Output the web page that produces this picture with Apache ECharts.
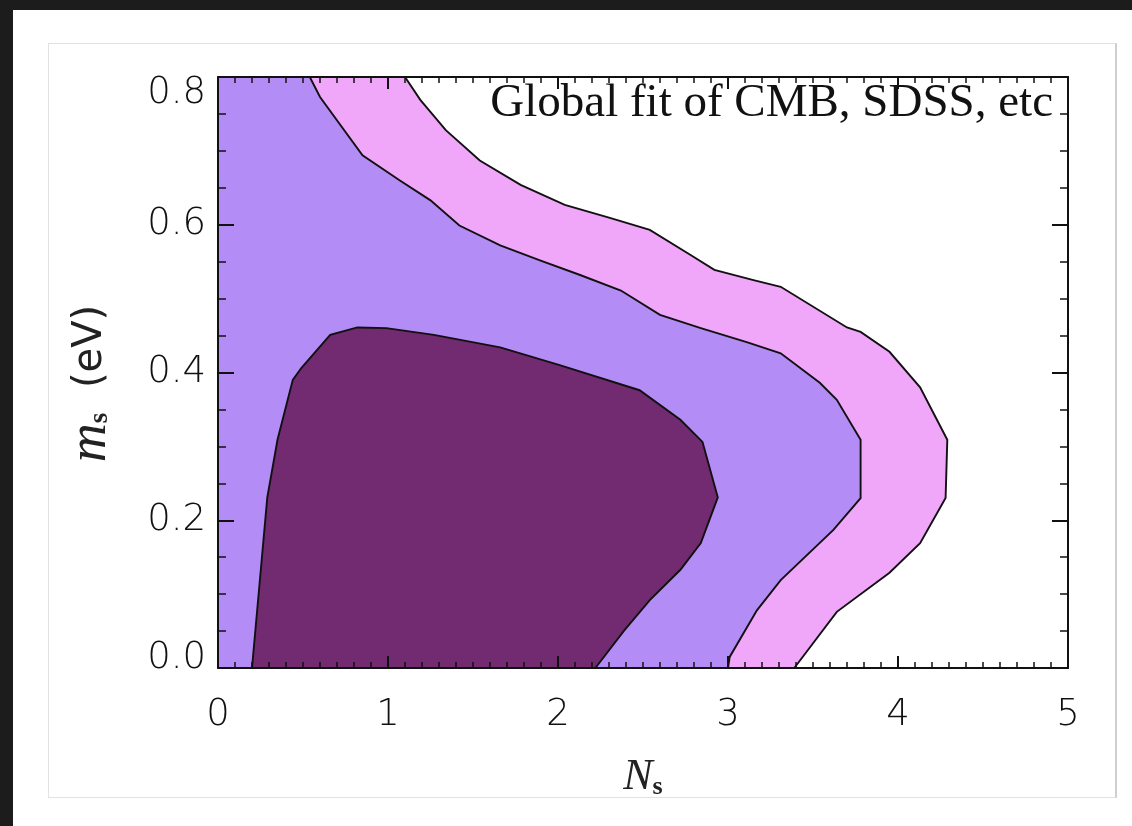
<!DOCTYPE html>
<html>
<head>
<meta charset="utf-8">
<title>Global fit of CMB, SDSS, etc</title>
<script src="https://cdn.jsdelivr.net/npm/echarts@6/dist/echarts.min.js"></script>
<style>
  html, body { margin: 0; padding: 0; width: 1132px; height: 826px; overflow: hidden; background: #1c1c1c; }
  .card { position: absolute; left: 13px; top: 10px; width: 1119px; height: 816px; background: #fff; }
  .frame { position: absolute; left: 48px; top: 43px; width: 1066px; height: 753px; border: 1px solid #e2e2e2; border-right: 2px solid #cfcfcf; }
  #chart { position: absolute; left: 0; top: 0; width: 1132px; height: 826px; }
</style>
</head>
<body>
<div class="card"></div>
<div class="frame"></div>
<div id="chart"></div>
<script>
// 坐标轴刻度
var xTicks = [0, 1, 2, 3, 4, 5];
var yTicks = [0.0, 0.2, 0.4, 0.6, 0.8];

// 外层 (粉色) 等值线
var outerN = [1.10, 1.19, 1.34, 1.54, 1.78, 2.04, 2.31, 2.54, 2.78, 2.92, 3.15, 3.31, 3.70, 3.78, 3.95, 4.13, 4.29, 4.28, 4.13, 3.95, 3.64, 3.39];
var outerM = [0.800, 0.769, 0.728, 0.687, 0.654, 0.627, 0.609, 0.593, 0.559, 0.539, 0.525, 0.516, 0.461, 0.455, 0.428, 0.380, 0.309, 0.230, 0.169, 0.129, 0.076, 0.000];

// 中间 (淡紫) 等值线
var midN = [0.54, 0.60, 0.85, 1.07, 1.25, 1.42, 1.66, 1.89, 2.13, 2.37, 2.60, 2.84, 3.11, 3.31, 3.54, 3.64, 3.78, 3.78, 3.62, 3.31, 3.17, 3.01, 3.00];
var midM = [0.800, 0.773, 0.694, 0.660, 0.633, 0.599, 0.572, 0.552, 0.532, 0.511, 0.478, 0.460, 0.441, 0.426, 0.386, 0.363, 0.309, 0.230, 0.187, 0.119, 0.078, 0.015, 0.000];

// 内层 (深紫) 等值线
var innerN = [0.20, 0.29, 0.35, 0.44, 0.49, 0.66, 0.82, 0.99, 1.27, 1.66, 2.01, 2.48, 2.72, 2.85, 2.94, 2.84, 2.72, 2.54, 2.39, 2.22];
var innerM = [0.000, 0.231, 0.309, 0.390, 0.406, 0.451, 0.461, 0.460, 0.451, 0.434, 0.410, 0.376, 0.336, 0.306, 0.231, 0.169, 0.133, 0.092, 0.051, 0.000];

var labelFont = 'DejaVu Sans, Liberation Sans, sans-serif';
var serifFont = 'Liberation Serif, Times New Roman, serif';

function zip(ns, ms) {
  var out = [];
  for (var i = 0; i < ns.length; i++) {
    out.push([ns[i], ms[i]]);
  }
  return out;
}

// 等值区域: 填充 + 黑色轮廓
function contour(name, ns, ms, color, closeLeft) {
  var pts = zip(ns, ms);
  return {
    name: name,
    type: 'custom',
    coordinateSystem: 'cartesian2d',
    z: 2,
    data: [pts[0]],
    renderItem: function (params, api) {
      var line = pts.map(function (p) { return api.coord(p); });
      var fill = line.slice();
      if (closeLeft) {
        fill.push(api.coord([0, 0]));
        fill.push(api.coord([0, 0.8]));
      }
      return {
        type: 'group',
        children: [{
          type: 'polygon',
          shape: { points: fill },
          style: { fill: color, stroke: null }
        }, {
          type: 'polyline',
          shape: { points: line },
          style: { stroke: '#111', lineWidth: 1.9, fill: null }
        }]
      };
    }
  };
}

var tickText = { fontSize: 37, color: '#111', fontFamily: labelFont, fontWeight: 200 };

function xAxis(pos, showLabel) {
  return {
    type: 'value',
    position: pos,
    min: 0,
    max: 5,
    interval: 1,
    z: 10,
    axisLine: { show: true, onZero: false, lineStyle: { color: '#111', width: 2 } },
    axisTick: { show: true, inside: true, length: 12, lineStyle: { color: '#111', width: 2 } },
    minorTick: { show: true, splitNumber: 10, length: 6, lineStyle: { color: '#111', width: 1.5 } },
    splitLine: { show: false },
    axisLabel: Object.assign({
      show: showLabel,
      margin: 29,
      formatter: function (v) { return xTicks.indexOf(v) >= 0 ? String(v) : ''; }
    }, tickText)
  };
}

function yAxis(pos, showLabel) {
  return {
    type: 'value',
    position: pos,
    min: 0,
    max: 0.8,
    interval: 0.2,
    z: 10,
    axisLine: { show: true, onZero: false, lineStyle: { color: '#111', width: 2 } },
    axisTick: { show: true, inside: true, length: 16, lineStyle: { color: '#111', width: 2 } },
    minorTick: { show: true, splitNumber: 4, length: 8, lineStyle: { color: '#111', width: 1.5 } },
    splitLine: { show: false },
    axisLabel: Object.assign({
      show: showLabel,
      margin: 12,
      // 端点标签向轴内收, 与原图一致
      formatter: function (v) {
        var s = v.toFixed(1);
        if (v === yTicks[yTicks.length - 1]) return '{top|' + s + '}';
        if (v === yTicks[0]) return '{bot|' + s + '}';
        return s;
      },
      rich: {
        top: Object.assign({ padding: [32, 0, 0, 0] }, tickText),
        bot: Object.assign({ padding: [0, 0, 20, 0] }, tickText)
      }
    }, tickText)
  };
}

var chart = echarts.init(document.getElementById('chart'), null, { renderer: 'canvas' });

var bottomX = xAxis('bottom', true);
bottomX.name = '{n|N}{s|s}';
bottomX.nameLocation = 'middle';
bottomX.nameGap = 86;
bottomX.nameTextStyle = {
  fontSize: 44,
  fontFamily: serifFont,
  rich: {
    n: { fontFamily: serifFont, fontStyle: 'italic', fontSize: 44, color: '#222' },
    s: { fontFamily: serifFont, fontWeight: 'bold', fontSize: 26, color: '#222', padding: [20, 0, 0, 0] }
  }
};

var leftY = yAxis('left', true);
leftY.name = '{m|m}{s|s}{g| }{u|(eV)}';
leftY.nameLocation = 'middle';
leftY.nameGap = 100;
leftY.nameTextStyle = {
  fontSize: 40,
  fontFamily: labelFont,
  rich: {
    m: { fontFamily: serifFont, fontStyle: 'italic', fontSize: 54, color: '#222' },
    s: { fontFamily: serifFont, fontWeight: 'bold', fontSize: 27, color: '#222', padding: [18, 0, 0, 0] },
    g: { fontSize: 40, fontFamily: labelFont, padding: [0, 6, 0, 6] },
    u: { fontFamily: labelFont, fontSize: 40, fontWeight: 'normal', color: '#222', padding: [0, 22, 0, 0] }
  }
};

var option = {
  backgroundColor: 'transparent',
  animation: false,
  grid: { left: 218, top: 77, right: 64, bottom: 158, show: true, backgroundColor: '#fff', borderWidth: 0 },
  xAxis: [bottomX, xAxis('top', false)],
  yAxis: [leftY, yAxis('right', false)],
  series: [
    contour('95% CL', outerN, outerM, '#f0a6f9', true),
    contour('68% CL', midN, midM, '#b48cf6', true),
    contour('best', innerN, innerM, '#722a70', false)
  ],
  graphic: [{
    type: 'text',
    right: 1132 - 1053,
    top: 80,
    z: 20,
    style: {
      text: 'Global fit of CMB, SDSS, etc',
      font: '47px ' + serifFont,
      fill: '#111'
    }
  }]
};

chart.setOption(option);
</script>
</body>
</html>
